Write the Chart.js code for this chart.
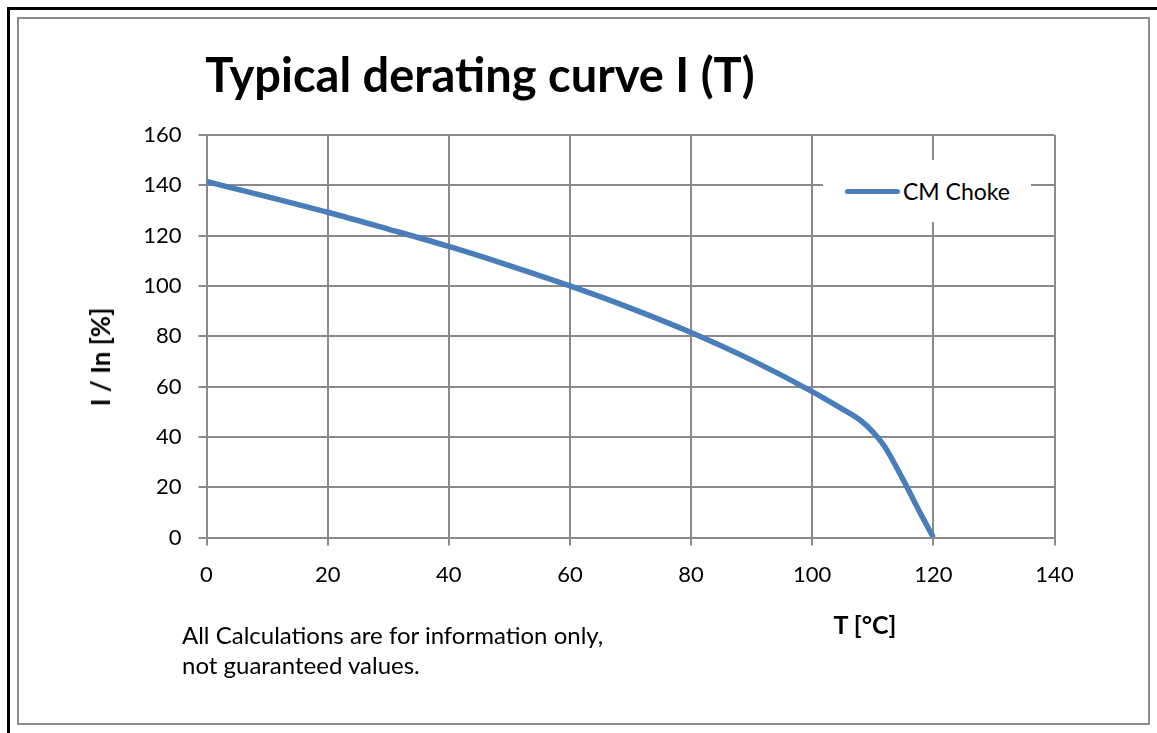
<!DOCTYPE html>
<html>
<head>
<meta charset="utf-8">
<script src="https://cdn.jsdelivr.net/npm/chart.js@4/dist/chart.umd.min.js"></script>
<style>
    body { margin: 0; background: #fff; font-family: Lato, "Open Sans", sans-serif; }
    #wrap { position: relative; width: 1157px; height: 733px; overflow: hidden; }
    #chart { position: absolute; left: 0; top: 0; }
    .outer { position: absolute; left: 7px; top: 7px; width: 1200px; height: 800px;
             border-left: 3px solid #000; border-top: 3px solid #000; }
    .frame { position: absolute; left: 17px; top: 17px; width: 1129px; height: 704px;
             border: 2px solid #8c8c8c; }
    .txt { position: absolute; color: #000; white-space: nowrap; }
    #title { left: 480px; top: 46px; line-height: 56px; transform: translateX(-50%); font-size: 47px; font-weight: bold; }
    #ytitle { left: 100px; top: 357px; transform: translate(-50%, -50%) rotate(-90deg);
              font-size: 26px; font-weight: bold; }
    #xtitle { left: 865px; top: 609px; line-height: 30px; transform: translateX(-50%); font-size: 25px; font-weight: bold; }
    #note { left: 182px; top: 620px; font-size: 24px; line-height: 30px; }
    #legend { position: absolute; left: 823px; top: 160px; width: 208px; height: 62px; background: #fff;
              display: flex; align-items: center; font-size: 23px; }
    #legend .swatch { width: 55px; height: 5px; border-radius: 3px; margin-left: 22px; margin-right: 3px; }
</style>
</head>
<body>
<div id="wrap">
    <div class="outer"></div>
    <div class="frame"></div>
    <canvas id="chart" width="1157" height="733"></canvas>
    <div class="txt" id="title">Typical derating curve I (T)</div>
    <div class="txt" id="ytitle">I / In [%]</div>
    <div class="txt" id="xtitle">T [°C]</div>
    <div class="txt" id="note">All Calculations are for information only,<br>not guaranteed values.</div>
    <div id="legend"></div>
</div>
<script>
// Derating data
const seriesName = 'CM Choke';
const temperatures = [0, 10, 20, 30, 40, 50, 60, 70, 80, 90, 100, 105, 108, 110, 112, 115, 118, 120];
const currentPct = [141.5, 135.5, 129.3, 122.6, 115.7, 108.1, 100, 91.2, 81.5, 70.5, 58, 51, 46.5, 42, 36, 23, 9, 0];
const xTicks = [0, 20, 40, 60, 80, 100, 120, 140];
const yTicks = [0, 20, 40, 60, 80, 100, 120, 140, 160];

const lineColor = '#4A7EBB';
const gridColor = '#8a8a8a';

const points = temperatures.map((t, i) => ({ x: t, y: currentPct[i] }));

// Legend (HTML, placed over the plot like the original)
const legend = document.getElementById('legend');
legend.innerHTML = '<span class="swatch" style="background:' + lineColor + '"></span><span>' + seriesName + '</span>';

new Chart(document.getElementById('chart'), {
    type: 'line',
    data: {
        datasets: [{
            label: seriesName,
            data: points,
            borderColor: lineColor,
            borderWidth: 5.5,
            pointRadius: 0,
            cubicInterpolationMode: 'monotone',
            fill: false
        }]
    },
    options: {
        responsive: false,
        animation: false,
        layout: { padding: { left: 0, top: 135, right: 102.5, bottom: 0 } },
        plugins: {
            legend: { display: false },
            tooltip: { enabled: false }
        },
        scales: {
            x: {
                type: 'linear',
                min: xTicks[0],
                max: xTicks[xTicks.length - 1],
                afterBuildTicks: scale => { scale.ticks = xTicks.map(v => ({ value: v })); },
                afterFit: scale => { scale.height = 733 - 537.5; },
                grid: { color: gridColor, lineWidth: 2, tickLength: 8 },
                border: { color: gridColor, width: 2 },
                ticks: { color: '#000', padding: 16, font: { family: 'Lato', size: 22 } }
            },
            y: {
                type: 'linear',
                min: yTicks[0],
                max: yTicks[yTicks.length - 1],
                afterBuildTicks: scale => { scale.ticks = yTicks.map(v => ({ value: v })); },
                afterFit: scale => { scale.width = 206.5; },
                grid: { color: gridColor, lineWidth: 2, tickLength: 8 },
                border: { color: gridColor, width: 2 },
                ticks: { color: '#000', padding: 17, font: { family: 'Lato', size: 22 } }
            }
        }
    }
});
</script>
</body>
</html>
